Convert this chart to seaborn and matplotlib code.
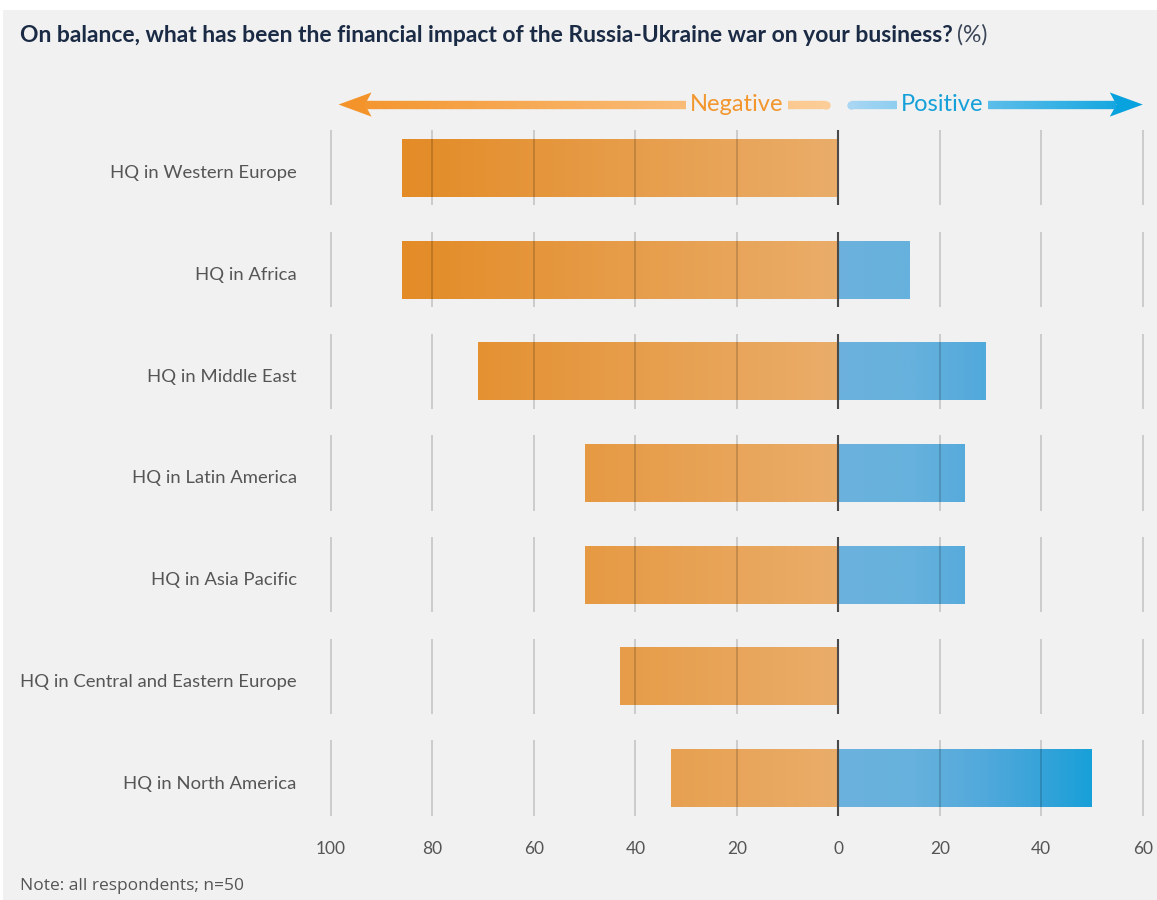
import numpy as np
import pandas as pd
import matplotlib
matplotlib.use("Agg")
import matplotlib.pyplot as plt
import seaborn as sns
from matplotlib.colors import LinearSegmentedColormap, Normalize
from matplotlib.collections import LineCollection
from matplotlib.patches import Polygon, Rectangle
import matplotlib.transforms as mtransforms

# data
regions = ["HQ in Western Europe", "HQ in Africa", "HQ in Middle East",
           "HQ in Latin America", "HQ in Asia Pacific",
           "HQ in Central and Eastern Europe", "HQ in North America"]
negative = [86, 86, 71, 50, 50, 43, 33]
positive = [0, 14, 29, 25, 25, 0, 50]
ticks = [-100, -80, -60, -40, -20, 0, 20, 40, 60]
tick_labels = ["100", "80", "60", "40", "20", "0", "20", "40", "60"]

title = "On balance, what has been the financial impact of the Russia-Ukraine war on your business?"
note = "Note: all respondents; n=50"

df = pd.DataFrame({"region": regions,
                   "neg": [-v for v in negative],
                   "pos": positive})

sns.set_theme(style="white")
plt.rcParams["font.family"] = ["Lato", "DejaVu Sans"]

bg = "#F0F1F0"
fig = plt.figure(figsize=(11.57, 9.0), dpi=100)
fig.patch.set_facecolor("white")
fig.patches.append(Rectangle((0.003, 0), 0.997, 0.989, transform=fig.transFigure,
                             facecolor=bg, edgecolor="none", zorder=-10))

ax = fig.add_axes([0.2685, 0.079, 0.728, 0.791])
ax.set_facecolor("none")

sns.barplot(data=df, y="region", x="neg", orient="h", color="#E8A050",
            width=0.57, ax=ax, errorbar=None)
sns.barplot(data=df, y="region", x="pos", orient="h", color="#6BB1DC",
            width=0.57, ax=ax, errorbar=None)

neg_cmap = LinearSegmentedColormap.from_list("neg", ["#E2861C", "#EAAD6A"])
pos_cmap = LinearSegmentedColormap.from_list(
    "pos", [(0, "#6CB2DD"), (0.3, "#66B1DD"), (0.6, "#4FA8DB"),
            (0.8, "#36A3D9"), (1, "#18A0D8")])
neg_norm = Normalize(-100, 0)
pos_norm = Normalize(0, 50)

# replace flat bars by horizontal gradients
for p in list(ax.patches):
    x0, w = p.get_x(), p.get_width()
    y0, h = p.get_y(), p.get_height()
    p.set_visible(False)
    if abs(w) < 1e-9:
        continue
    xa, xb = min(x0, x0 + w), max(x0, x0 + w)
    xs = np.linspace(xa, xb, 256)
    if xb <= 0:
        cols = neg_cmap(neg_norm(xs))
    else:
        cols = pos_cmap(np.clip(pos_norm(xs), 0, 1))
    ax.imshow(cols[np.newaxis, :, :], extent=[xa, xb, y0 + h, y0],
              aspect="auto", interpolation="bilinear", zorder=1)

ax.set_xlim(-104, 62)
ax.set_ylim(6.5, -0.5)

# grid segments per row
for i in range(len(regions)):
    for t in ticks:
        if t == 0:
            ax.vlines(t, i - 0.37, i + 0.37, color="#4a4a4a", lw=1.5, zorder=4)
        else:
            ax.vlines(t, i - 0.37, i + 0.37, color="black", alpha=0.17, lw=1.3, zorder=3)

ax.set_xticks(ticks)
ax.set_xticklabels(tick_labels)
ax.tick_params(axis="x", length=0, pad=9, labelsize=12.5, labelcolor="#555555")
ax.tick_params(axis="y", length=0, pad=10, labelsize=13.3, labelcolor="#555555")
shift = mtransforms.ScaledTranslation(0, -4 / 100, fig.dpi_scale_trans)
for lab in ax.get_yticklabels():
    lab.set_transform(lab.get_transform() + shift)
ax.set_xlabel("")
ax.set_ylabel("")
for s in ax.spines.values():
    s.set_visible(False)

# direction arrows above the plot
trans = mtransforms.blended_transform_factory(ax.transData, ax.transAxes)
ya = 1.0175
px = 5.075  # pixels per data unit, for head shape
head_len = 33 / px


def gradient_shaft(x_start, x_end, c0, c1, xg0, xg1):
    cm = LinearSegmentedColormap.from_list("g", [c0, c1])
    xs = np.linspace(x_start, x_end, 120)
    segs = [[(xs[k], ya), (xs[k + 1], ya)] for k in range(len(xs) - 1)]
    cols = cm(np.clip((xs[:-1] - xg0) / (xg1 - xg0), 0, 1))
    lc = LineCollection(segs, colors=cols, linewidths=6, transform=trans,
                        clip_on=False, capstyle="butt")
    ax.add_collection(lc)


def round_cap(x, color):
    ax.plot([x], [ya], marker="o", ms=6, color=color, mec="none",
            transform=trans, clip_on=False)


# negative arrow
o0, o1 = "#F3932A", "#FCCD98"
gradient_shaft(-98.5 + head_len * 0.8, -30.0, o0, o1, -98.5, -2)
gradient_shaft(-10.0, -2.5, o0, o1, -98.5, -2)
round_cap(-2.5, o1)
ax.add_patch(Polygon([(-98.5, ya), (-98.5 + head_len, ya + 0.017),
                      (-98.5 + head_len * 0.8, ya), (-98.5 + head_len, ya - 0.017)],
                     closed=True, transform=trans, clip_on=False,
                     facecolor=o0, edgecolor="none"))
ax.text(-20.0, ya, "Negative", transform=trans, ha="center", va="center",
        fontsize=17, color="#F3962D")

# positive arrow
b0, b1 = "#A8D6F3", "#08A2DE"
gradient_shaft(2.5, 11.5, b0, b1, 2, 60)
round_cap(2.5, b0)
gradient_shaft(29.5, 60 - head_len * 0.8, b0, b1, 2, 60)
ax.add_patch(Polygon([(60, ya), (60 - head_len, ya + 0.017),
                      (60 - head_len * 0.8, ya), (60 - head_len, ya - 0.017)],
                     closed=True, transform=trans, clip_on=False,
                     facecolor=b1, edgecolor="none"))
ax.text(20.5, ya, "Positive", transform=trans, ha="center", va="center",
        fontsize=17, color="#16A0DA")

# title and note
t1 = fig.text(20 / 1157, 1 - 35 / 900, title, ha="left", va="center",
              fontsize=16.5, fontweight="bold", color="#1B2B45")
fig.canvas.draw()
bb = t1.get_window_extent()
fig.text(bb.x1 / fig.bbox.width + 0.004, 1 - 35 / 900, "(%)", ha="left", va="center",
         fontsize=16.5, color="#3A4557")
fig.text(20 / 1157, 1 - 886 / 900, note, ha="left", va="center",
         fontsize=12.5, color="#555555", family=["Open Sans", "DejaVu Sans"])

fig.savefig("out.png", dpi=100, facecolor=fig.get_facecolor())
